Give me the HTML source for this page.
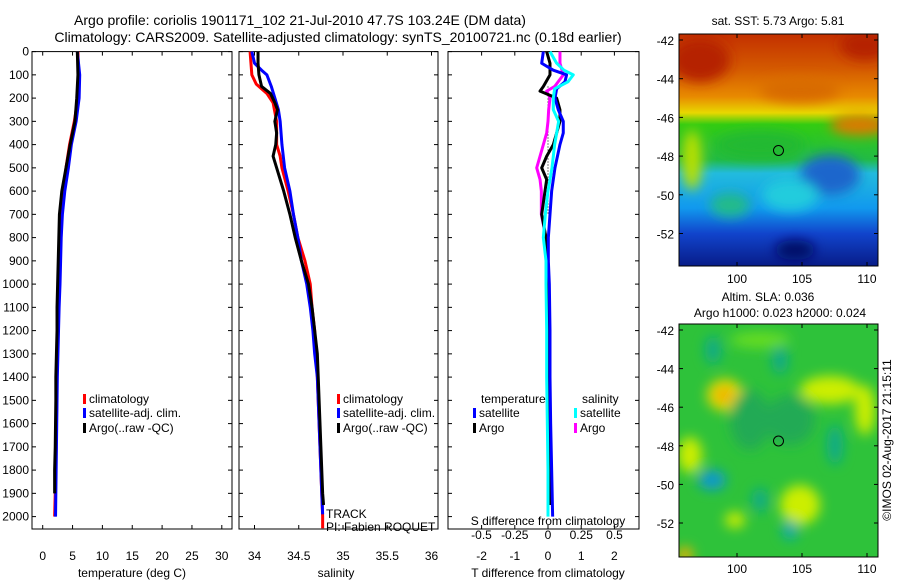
<!DOCTYPE html>
<html><head><meta charset="utf-8"><style>
body{margin:0;background:#fff;}
svg text{font-family:"Liberation Sans",sans-serif;font-size:12px;fill:#000;}
</style></head><body>
<svg id="fig" width="900" height="580" viewBox="0 0 900 580">
<defs>
<filter id="bl" x="-20%" y="-20%" width="140%" height="140%"><feGaussianBlur stdDeviation="6"/></filter>
<clipPath id="c1"><rect x="679" y="34" width="199" height="232"/></clipPath>
<clipPath id="c2"><rect x="679" y="324" width="199" height="233"/></clipPath>
<linearGradient id="sst" x1="0" y1="0" x2="0" y2="1">
<stop offset="0" stop-color="#c33000"/><stop offset="0.15" stop-color="#d45a00"/><stop offset="0.27" stop-color="#e88a00"/>
<stop offset="0.34" stop-color="#e8d800"/><stop offset="0.39" stop-color="#33cc11"/><stop offset="0.54" stop-color="#22bb44"/>
<stop offset="0.6" stop-color="#22bbdd"/><stop offset="0.75" stop-color="#1199ee"/><stop offset="0.86" stop-color="#1144cc"/><stop offset="1" stop-color="#081c88"/>
</linearGradient>
</defs>
<text x="300" y="25" text-anchor="middle" style="font-size:14px">Argo profile: coriolis 1901171_102 21-Jul-2010 47.7S 103.24E (DM data)</text>
<text x="338" y="42" text-anchor="middle" style="font-size:14px">Climatology: CARS2009. Satellite-adjusted climatology: synTS_20100721.nc (0.18d earlier)</text>
<g id="p1"></g>
<g id="p2"></g>
<g id="p3"></g>
<g id="m1" clip-path="url(#c1)">
<rect x="679" y="34" width="199" height="232" fill="url(#sst)"/>
<g filter="url(#bl)">
<ellipse cx="700" cy="60" rx="30" ry="22" fill="#b52200"/><ellipse cx="865" cy="45" rx="25" ry="15" fill="#b52200"/>
<ellipse cx="800" cy="90" rx="40" ry="12" fill="#d86a00"/>
<ellipse cx="692" cy="160" rx="10" ry="30" fill="#b8e000"/>
<ellipse cx="760" cy="145" rx="45" ry="14" fill="#22b933"/>
<ellipse cx="830" cy="175" rx="30" ry="20" fill="#1a66cc"/>
<ellipse cx="730" cy="205" rx="20" ry="12" fill="#22bb88"/>
<ellipse cx="790" cy="195" rx="28" ry="16" fill="#22ccdd"/>
<ellipse cx="795" cy="250" rx="20" ry="10" fill="#000a66"/>
<ellipse cx="860" cy="125" rx="30" ry="10" fill="#e07800"/>
</g>
<circle cx="778.5" cy="150.5" r="5" fill="none" stroke="#000" stroke-width="1"/>
</g>
<rect x="679" y="34" width="199" height="232" fill="none" stroke="#000"/>
<g id="m2" clip-path="url(#c2)">
<rect x="679" y="324" width="199" height="233" fill="#2ec23a"/>
<g filter="url(#bl)">
<ellipse cx="725" cy="395" rx="18" ry="16" fill="#e8d800"/><ellipse cx="724" cy="395" rx="8" ry="6" fill="#f0a000"/>
<ellipse cx="830" cy="390" rx="30" ry="14" fill="#ccee00"/><ellipse cx="865" cy="410" rx="10" ry="25" fill="#ccee00"/>
<ellipse cx="800" cy="505" rx="20" ry="20" fill="#ccee00"/><ellipse cx="690" cy="455" rx="12" ry="18" fill="#ccee00"/>
<ellipse cx="712" cy="480" rx="14" ry="10" fill="#1199cc"/>
<ellipse cx="713" cy="350" rx="8" ry="14" fill="#11aa88"/><ellipse cx="780" cy="360" rx="8" ry="14" fill="#11aa88"/>
<ellipse cx="835" cy="445" rx="8" ry="20" fill="#11aa88"/><ellipse cx="790" cy="420" rx="25" ry="25" fill="#22aa55"/>
<ellipse cx="790" cy="530" rx="8" ry="10" fill="#11aaaa"/><ellipse cx="760" cy="500" rx="8" ry="12" fill="#11aa88"/>
<ellipse cx="685" cy="555" rx="8" ry="8" fill="#f0b000"/><ellipse cx="735" cy="520" rx="10" ry="8" fill="#ccee00"/>
<ellipse cx="750" cy="420" rx="20" ry="30" fill="#22aa55"/><ellipse cx="760" cy="340" rx="30" ry="8" fill="#66dd22"/>
</g>
<circle cx="778.5" cy="441" r="5" fill="none" stroke="#000" stroke-width="1"/>
</g>
<rect x="679" y="324" width="199" height="233" fill="none" stroke="#000"/>
<text x="778" y="25" text-anchor="middle">sat. SST: 5.73 Argo: 5.81</text>
<text x="768" y="301" text-anchor="middle">Altim. SLA: 0.036</text>
<text x="780" y="317" text-anchor="middle">Argo h1000: 0.023 h2000: 0.024</text>
<text transform="translate(891,440) rotate(-90)" text-anchor="middle">©IMOS 02-Aug-2017 21:15:11</text>
<g id="mt"></g>
</svg>
<script>
const depthT = [0,100,200,300,400,500,600,700,800,900,1000,1100,1200,1300,1400,1500,1600,1700,1800,1900,2000];
const tempClim = [5.9,6.0,5.9,5.3,4.5,3.9,3.5,3.1,2.9,2.8,2.7,2.6,2.5,2.45,2.4,2.35,2.3,2.25,2.2,2.1,2.0];
const tempSat = [5.8,6.2,6.1,5.6,4.8,4.3,3.7,3.3,3.1,3.0,2.9,2.75,2.65,2.55,2.45,2.4,2.35,2.3,2.25,2.2,2.15];
const tempArgo = [5.8,5.9,5.7,5.4,4.6,3.9,3.2,2.8,2.7,2.6,2.5,2.4,2.4,2.3,2.2,2.2,2.15,2.1,2.0,2.0];
const depthSC = [0,50,100,140,180,220,260,300,400,450,500,600,700,800,900,1000,1100,1200,1400,1600,1800,2000,2050];
const salClim = [33.95,33.96,33.97,34.02,34.14,34.21,34.23,34.25,34.25,34.29,34.31,34.38,34.44,34.49,34.57,34.63,34.65,34.68,34.71,34.73,34.75,34.77,34.77];
const depthSS = [0,50,80,100,150,200,250,300,400,500,600,700,800,900,1000,1100,1200,1300,1400,1500,1600,1700,1800,1900,1990];
const salSat = [33.97,34.0,34.08,34.14,34.19,34.23,34.27,34.29,34.31,34.34,34.40,34.44,34.49,34.53,34.59,34.63,34.66,34.68,34.71,34.72,34.73,34.74,34.75,34.76,34.77];
const depthSA = [0,50,100,150,180,220,250,300,350,400,450,500,550,600,700,800,900,1000,1100,1200,1300,1400,1500,1700,1900,1950];
const salArgo = [34.04,34.04,34.05,34.08,34.18,34.23,34.26,34.23,34.25,34.24,34.21,34.25,34.29,34.33,34.40,34.46,34.53,34.61,34.65,34.68,34.71,34.72,34.73,34.75,34.77,34.78];
const depthD1 = [0,50,80,100,130,160,200,250,300,350,400,500,600,700,800,900,1000,1200,1400,1600,1800,2000];
const dTSat = [-0.14,-0.19,0.16,0.56,0.51,0.26,0.21,0.31,0.46,0.46,0.36,0.21,0.11,0.06,0.01,0.01,0.04,0.06,0.06,0.08,0.11,0.14];
const dSSat = [0.015,0.065,0.12,0.19,0.15,0.05,0.04,0.04,0.08,0.065,0.05,0.03,0.0,-0.02,-0.035,-0.015,-0.015,-0.01,-0.01,-0.005,0.0,0.0];
const depthD2 = [0,50,100,150,170,200,250,300,350,400,450,500,550,600,700,800,900,1000,1200,1400,1600,1800,1950];
const dTArgo = [-0.04,0.06,0.06,-0.14,-0.24,0.26,0.36,0.36,0.26,0.16,-0.04,-0.19,-0.04,-0.09,-0.19,-0.06,-0.06,-0.04,0.01,0.01,0.06,0.06,0.06];
const dSArgo = [0.09,0.09,0.115,0.05,-0.01,0.015,0.005,0.0,-0.01,-0.035,-0.06,-0.085,-0.06,-0.05,-0.05,-0.015,-0.005,0.0,0.01,0.01,0.015,0.015,0.015];
const depthTicks = [0,100,200,300,400,500,600,700,800,900,1000,1100,1200,1300,1400,1500,1600,1700,1800,1900,2000];
const tempTicks = [0,5,10,15,20,25,30];
const salTicks = [34,34.5,35,35.5,36];
const tdTicks = [-2,-1,0,1,2];
const sdTicks = ['-0.5','-0.25','0','0.25','0.5'];
const latTicks = [-42,-44,-46,-48,-50,-52];
const lonTicks = [100,105,110];

const NS='http://www.w3.org/2000/svg';
const TOP=51.6, BOT=529;
const yD = d => TOP + d*0.2325;
const xT = t => 42.7 + t*5.97;
const xS = s => 254.5 + (s-34)*88.5;
const xTd = t => 548 + t*33.2;
const xSd = s => 548 + s*133;
function el(tag, attrs, parent){const e=document.createElementNS(NS,tag);for(const k in attrs)e.setAttribute(k,attrs[k]);parent.appendChild(e);return e;}
function txt(parent,x,y,s,anchor){const t=el('text',{x:x,y:y,'text-anchor':anchor||'middle'},parent);t.textContent=s;return t;}
function line(parent, depths, vals, fx, color, name){
  let pts=[];
  for(let i=0;i<vals.length;i++) pts.push(fx(vals[i])+','+yD(depths[i]));
  const p=el('polyline',{points:pts.join(' '),fill:'none',stroke:color,'stroke-width':3,'stroke-linejoin':'round'},parent);
  
  
}
function frame(parent,x0,x1,ylabels){
  el('rect',{x:x0,y:TOP,width:x1-x0,height:BOT-TOP,fill:'#fff',stroke:'#000'},parent);
  depthTicks.forEach(d=>{
    el('line',{x1:x0,x2:x0+4,y1:yD(d),y2:yD(d),stroke:'#000'},parent);
    el('line',{x1:x1-4,x2:x1,y1:yD(d),y2:yD(d),stroke:'#000'},parent);
    if(ylabels){const t=txt(parent,x0-3,yD(d)+4,String(d),'end');
      
      }
  });
}
function xticks(parent,vals,fx,labs,y){
  vals.forEach((v,i)=>{
    const x=fx(v);
    el('line',{x1:x,x2:x,y1:BOT,y2:BOT-4,stroke:'#000'},parent);
    el('line',{x1:x,x2:x,y1:TOP,y2:TOP+4,stroke:'#000'},parent);
    const t=txt(parent,x,y,labs?labs[i]:String(v));
    
    
  });
}
function legItem(parent,x,y,color,label){
  el('rect',{x:x,y:y-9,width:3,height:10,fill:color},parent);
  const t=txt(parent,x+6,y,label,'start');
  
  
}
const p1=document.getElementById('p1');
frame(p1,32,232,true);
xticks(p1,tempTicks,xT,null,560);
line(p1,depthT,tempClim,xT,'#f00','temp-climatology-line');
line(p1,depthT,tempSat,xT,'#00f','temp-satellite-line');
line(p1,depthT.slice(0,tempArgo.length),tempArgo,xT,'#000','temp-argo-line');
txt(p1,132,577,'temperature (deg C)');
legItem(p1,83,403,'#f00','climatology');legItem(p1,83,417,'#00f','satellite-adj. clim.');legItem(p1,83,432,'#000','Argo(..raw -QC)');
const p2=document.getElementById('p2');
frame(p2,239,438,false);
xticks(p2,salTicks,xS,null,560);
line(p2,depthSC,salClim,xS,'#f00','sal-climatology-line');
line(p2,depthSS,salSat,xS,'#00f','sal-satellite-line');
line(p2,depthSA,salArgo,xS,'#000','sal-argo-line');
txt(p2,336,577,'salinity');
legItem(p2,337,403,'#f00','climatology');legItem(p2,337,417,'#00f','satellite-adj. clim.');legItem(p2,337,432,'#000','Argo(..raw -QC)');
txt(p2,326,518,'TRACK','start');txt(p2,326,531,'PI: Fabien ROQUET','start');
const p3=document.getElementById('p3');
frame(p3,448,639,false);
xticks(p3,tdTicks,xTd,null,560);
[-0.5,-0.25,0,0.25,0.5].forEach((v,i)=>{const tt=txt(p3,xSd(v),539,sdTicks[i]);
  
  });
txt(p3,548,525,'S difference from climatology');
txt(p3,548,577,'T difference from climatology');
el('line',{x1:548,x2:548,y1:yD(150),y2:yD(700),stroke:'#000','stroke-dasharray':'1,2'},p3);
line(p3,depthD2,dSArgo,xSd,'#f0f','s-diff-argo-line');
line(p3,depthD2,dTArgo,xTd,'#000','t-diff-argo-line');
line(p3,depthD1,dTSat,xTd,'#00f','t-diff-satellite-line');
line(p3,depthD1,dSSat,xSd,'#0ff','s-diff-satellite-line');
txt(p3,481,403,'temperature','start');txt(p3,582,403,'salinity','start');
legItem(p3,473,417,'#00f','satellite');legItem(p3,473,432,'#000','Argo');
legItem(p3,574,417,'#0ff','satellite');legItem(p3,574,432,'#f0f','Argo');
const mt=document.getElementById('mt');
[[40,19.35,266,283],[330,19.3,557,573]].forEach(m=>{
  const top=m[2]-(m[2]===266?232:233);
  latTicks.forEach(la=>{const y=m[0]+(-42-la)*m[1];
    el('line',{x1:679,x2:683,y1:y,y2:y,stroke:'#000'},mt);el('line',{x1:874,x2:878,y1:y,y2:y,stroke:'#000'},mt);
    const a=txt(mt,674,y+5,String(la),'end');
    
    });
  lonTicks.forEach(lo=>{const x=737+(lo-100)*13;
    el('line',{x1:x,x2:x,y1:m[2],y2:m[2]-4,stroke:'#000'},mt);el('line',{x1:x,x2:x,y1:top,y2:top+4,stroke:'#000'},mt);
    const a=txt(mt,x,m[3],String(lo));
    
    });
});
</script>
</body></html>
